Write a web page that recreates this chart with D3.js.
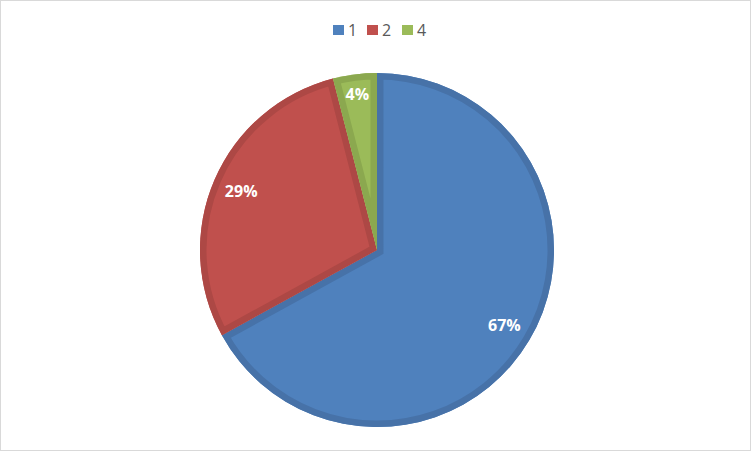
<!DOCTYPE html>
<html><head><meta charset="utf-8">
<script src="https://cdn.jsdelivr.net/npm/d3@7"></script>
<style>body{margin:0;background:#fff}svg{display:block}</style>
</head><body>
<svg id="c" width="752" height="452"></svg>
<script>
const categories = ["1", "2", "4"];
const values = [67, 29, 4];
const labels = ["67%", "29%", "4%"];
const fills = ["#4F81BD", "#C0504D", "#9BBB59"];
const edges = ["#4772A8", "#AD4845", "#8BA84F"];

const svg = d3.select("#c");
svg.append("rect").attr("x", 0.5).attr("y", 0.5).attr("width", 750).attr("height", 450)
  .attr("fill", "#fff").attr("stroke", "#D9D9D9");

const cx = 377, cy = 250, r = 177;
const pie = d3.pie().sort(null).value(d => d)(values);
const arc = d3.arc().innerRadius(0).outerRadius(r);
const g = svg.append("g").attr("transform", `translate(${cx},${cy})`);
const defs = svg.append("defs");

pie.forEach((p, i) => {
  defs.append("clipPath").attr("id", "cl" + i).append("path").attr("d", arc(p));
  g.append("path").attr("d", arc(p)).attr("fill", fills[i]);
  g.append("path").attr("d", arc(p)).attr("fill", "none").attr("stroke", edges[i])
    .attr("stroke-width", 13).attr("stroke-linejoin", "miter").attr("clip-path", `url(#cl${i})`);
});

const labelR = [148, 148, 157];
pie.forEach((p, i) => {
  const a = d3.arc().innerRadius(labelR[i]).outerRadius(labelR[i]);
  const [x, y] = a.centroid(p);
  g.append("text").attr("x", x).attr("y", y).attr("dy", "0.36em")
    .attr("text-anchor", "middle").attr("fill", "#fff")
    .attr("font-family", "'Open Sans', sans-serif")
    .attr("font-weight", "bold").attr("font-size", 16).text(labels[i]);
});

const lx = [333, 367, 402];
const leg = svg.append("g");
categories.forEach((c, i) => {
  leg.append("rect").attr("x", lx[i]).attr("y", 25).attr("width", 11).attr("height", 10).attr("fill", fills[i]);
  leg.append("text").attr("x", lx[i] + 15).attr("y", 36)
    .attr("font-family", "'Open Sans', sans-serif")
    .attr("font-size", 16).attr("fill", "#595959").text(c);
});
</script>
</body></html>
